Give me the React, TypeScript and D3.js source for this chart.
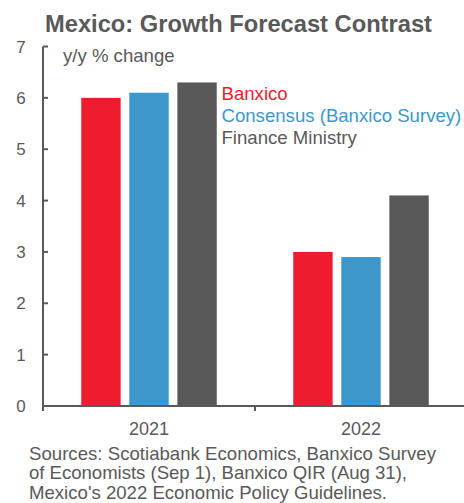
import React from "react";
import * as d3 from "d3";

const years = ["2021", "2022"];
const seriesNames = ["Banxico", "Consensus (Banxico Survey)", "Finance Ministry"];
const seriesColors = ["#ED1C2E", "#3D97CB", "#595959"];
const banxico = [6.0, 3.0];
const consensus = [6.1, 2.9];
const financeMinistry = [6.3, 4.1];
const yTicks = [0, 1, 2, 3, 4, 5, 6, 7];
const sourceLines = [
  "Sources: Scotiabank Economics, Banxico Survey",
  "of Economists (Sep 1), Banxico QIR (Aug 31),",
  "Mexico's 2022 Economic Policy Guidelines.",
];
const sourceWidths = [407, 378, 358];

const W = 464;
const H = 503;
const TXT = "#595959";
const FONT = "'Liberation Sans', Arial, sans-serif";

export default function App() {
  const values = [banxico, consensus, financeMinistry];
  const x0 = 43;
  const x1 = 467;
  const yScale = d3.scaleLinear().domain([0, 7]).range([406, 46.5]);
  const xBand = d3.scaleBand().domain(years).range([x0, x1]).paddingInner(0).paddingOuter(0);
  const groupW = 135.5;
  const inner = d3
    .scaleBand<number>()
    .domain([0, 1, 2])
    .range([0, groupW])
    .paddingInner(0.18)
    .paddingOuter(0);

  return (
    <svg
      width={W}
      height={H}
      style={{ position: "absolute", left: 0, top: 0, background: "#fff" }}
      fontFamily={FONT}
    >
      <text x={45} y={31.7} fontSize={23.7} fontWeight="bold" fill={TXT}>
        Mexico: Growth Forecast Contrast
      </text>
      {years.map((yr, i) => {
        const cx = (xBand(yr) as number) + xBand.bandwidth() / 2;
        const gx = cx - groupW / 2;
        return values.map((s, j) => (
          <rect
            key={yr + j}
            x={gx + (inner(j) as number)}
            y={yScale(s[i])}
            width={inner.bandwidth()}
            height={yScale(0) - yScale(s[i])}
            fill={seriesColors[j]}
          />
        ));
      })}
      <line x1={x0} x2={x0} y1={yScale(7)} y2={411} stroke={TXT} strokeWidth={2} />
      {yTicks.map((t) => (
        <g key={t}>
          <line x1={x0} x2={x0 + 5} y1={yScale(t)} y2={yScale(t)} stroke={TXT} strokeWidth={2} />
          <text x={21} y={yScale(t) + 6} textAnchor="middle" fontSize={17} fill={TXT}>
            {t}
          </text>
        </g>
      ))}
      <line x1={x0} x2={x1} y1={yScale(0)} y2={yScale(0)} stroke={TXT} strokeWidth={2} />
      {years.map((yr) => (
        <line
          key={"t" + yr}
          x1={xBand(yr) as number}
          x2={xBand(yr) as number}
          y1={yScale(0)}
          y2={411}
          stroke={TXT}
          strokeWidth={2}
        />
      ))}
      {years.map((yr) => (
        <text
          key={"l" + yr}
          x={(xBand(yr) as number) + xBand.bandwidth() / 2}
          y={435}
          textAnchor="middle"
          fontSize={18}
          fill={TXT}
        >
          {yr}
        </text>
      ))}
      <text x={63} y={62} fontSize={18.6} fill={TXT}>
        y/y % change
      </text>
      {seriesNames.map((n, j) => (
        <text key={n} x={221.5} y={99.5 + j * 22.2} fontSize={18.6} fill={seriesColors[j]}>
          {n}
        </text>
      ))}
      {sourceLines.map((l, k) => (
        <text
          key={k}
          x={29}
          y={459.5 + k * 19.8}
          fontSize={18.6}
          fill={TXT}
          textLength={sourceWidths[k]}
          lengthAdjust="spacing"
        >
          {l}
        </text>
      ))}
    </svg>
  );
}
